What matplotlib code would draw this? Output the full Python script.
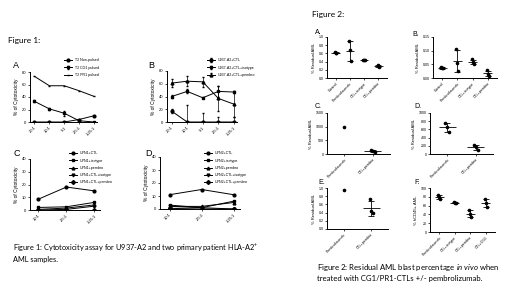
import matplotlib
matplotlib.use("Agg")
import matplotlib.pyplot as plt
import numpy as np

# ---- Figure 1 data ----
ratios_ab = ["20:1", "10:1", "5:1", "2.5:1", "1.25:1"]
ratios_cd = ["10:1", "2.5:1", "1.25:1"]

a_names = ["T2 Non-pulsed", "T2 CG1 pulsed", "T2 PR1 pulsed"]
a_nonpulsed = [0, 0, 0, 4, 10]
a_cg1 = [33, 21, 14, 2, 0]
a_cg1_err = [1.5, 1.5, 4, 2, 0]
a_pr1 = [73, 58, 58, 50, 41]

b_names = ["U937-A2+CTL", "U937-A2+CTL+isotype", "U937-A2+CTL+pembro"]
b_ctl = [17, 0, 0, 0, 0]
b_ctl_err = [3, 27, 14, 8, 8]
b_iso = [40, 48, 38, 48, 47]
b_iso_err = [2, 3, 1, 8, 1]
b_pem = [61, 64, 63, 37, 28]
b_pem_err = [6, 8, 8, 20, 20]

c_names = ["UPN1+CTL", "UPN1+isotype", "UPN1+pembro", "UPN1+CTL+isotype", "UPN1+CTL+pembro"]
c_ctl = [8.5, 18, 15]
c_iso = [2, 2.5, 6]
c_pem = [0.5, 1.5, 4]
c_ctl_iso = [0, 0.5, 3]
c_ctl_pem = [0, 0, 0]

d_names = ["UPN2+CTL", "UPN2+isotype", "UPN2+pembro", "UPN2+CTL+isotype", "UPN2+CTL+pembro"]
d_ctl = [11, 15, 11]
d_iso = [3, 1, 6]
d_pem = [2, 2, 5]
d_ctl_iso = [2, 1, 0]
d_ctl_pem = [0.5, 0, 0]

# ---- Figure 2 data (individual mice per group) ----
f2a_groups = ["Control", "Pembrolizumab", "CTL+isotype", "CTL+pembro"]
f2a_points = [[0.63, 0.61, 0.60], [0.90, 0.68, 0.42], [0.45, 0.44, 0.43], [0.32, 0.29, 0.28]]
f2b_groups = ["Control", "Pembrolizumab", "CTL+isotype", "CTL+pembro"]
f2b_points = [[0.042, 0.037, 0.035], [0.105, 0.055, 0.025], [0.068, 0.058, 0.052], [0.028, 0.015, 0.008]]
f2c_groups = ["Pembrolizumab", "CTL+pembro"]
f2c_points = [[1000], [150, 110, 80]]
f2d_groups = ["Pembrolizumab", "CTL+pembro"]
f2d_points = [[760, 650, 540], [220, 160, 100]]
f2e_groups = ["Pembrolizumab", "CTL+pembro"]
f2e_points = [[0.94], [0.72, 0.43, 0.38]]
f2f_groups = ["Pembrolizumab", "CTL+isotype", "CTL+pembro", "CTL+CG1"]
f2f_points = [[84, 79, 74], [68, 67, 66], [51, 42, 33], [75, 65, 56]]

W, H = 520, 292
AX_FONT = "Liberation Sans"
TXT_FONT = "Lato"
plt.rcParams["font.family"] = AX_FONT
plt.rcParams["mathtext.fontset"] = "custom"
plt.rcParams["mathtext.rm"] = TXT_FONT
plt.rcParams["mathtext.it"] = TXT_FONT + ":italic"

fig = plt.figure(figsize=(5.2, 2.92), dpi=100)


def box(x0, y0, x1, y1):
    return [x0 / W, 1 - y1 / H, (x1 - x0) / W, (y1 - y0) / H]


def style(ax, fs=3):
    for s in ["top", "right"]:
        ax.spines[s].set_visible(False)
    for s in ["left", "bottom"]:
        ax.spines[s].set_linewidth(0.7)
    ax.tick_params(width=0.5, length=1.5, labelsize=fs, pad=1)


def line_panel(ax, cats, series, ylim, yticks, legend_xy, names, markers):
    x = np.arange(len(cats))
    for (vals, err), m, n in zip(series, markers, names):
        ax.errorbar(x, vals, yerr=err, color="black", lw=0.7, marker=m, ms=2,
                    capsize=1, elinewidth=0.5, label=n)
    ax.set_xlim(-0.3, len(cats) - 0.8)
    ax.set_ylim(*ylim)
    ax.set_yticks(yticks)
    ax.set_xticks(x)
    ax.set_xticklabels(cats, rotation=45, ha="right", rotation_mode="anchor")
    ax.set_ylabel("% of Cytotoxicity", fontsize=3.5, labelpad=2)
    style(ax)
    ax.legend(loc="upper left", bbox_to_anchor=(legend_xy[0] / W, 1 - legend_xy[1] / H),
              bbox_transform=fig.transFigure, frameon=False, fontsize=2.6,
              handlelength=2, labelspacing=0.9, borderaxespad=0, handletextpad=0.8)


def dot_panel(ax, groups, points, ylim, yticks, ylabel):
    for i, pts in enumerate(points):
        pts = np.array(pts, dtype=float)
        off = np.linspace(-0.06, 0.06, len(pts)) if len(pts) > 1 else [0]
        ax.plot(i + np.asarray(off), pts, "o", color="black", ms=1.6)
        if len(pts) > 1:
            m, sd = pts.mean(), pts.std(ddof=1)
            ax.hlines(m, i - 0.3, i + 0.3, color="black", lw=0.6)
            ax.errorbar(i, m, yerr=sd, fmt="none", ecolor="black", elinewidth=0.6,
                        capsize=2, capthick=0.6)
    ax.set_xlim(-0.6, len(groups) - 0.4)
    ax.set_ylim(*ylim)
    ax.set_yticks(yticks)
    ax.set_xticks(range(len(groups)))
    ax.set_xticklabels(groups, rotation=45, ha="right", rotation_mode="anchor")
    ax.set_ylabel(ylabel, fontsize=3, labelpad=2)
    style(ax, fs=2.6)


def label(x, y, s, fs=6.5, font=AX_FONT):
    fig.text(x / W, 1 - y / H, s, fontsize=fs, family=font, va="center", ha="left")


# ---- Figure 1 ----
label(8, 40, "Figure 1:", fs=6, font=TXT_FONT)

axA = fig.add_axes(box(30, 72, 97, 122))
line_panel(axA, ratios_ab,
           [(a_nonpulsed, None), (a_cg1, a_cg1_err), (a_pr1, None)],
           (0, 80), [0, 20, 40, 60, 80], (63, 57), a_names, ["o", "s", "_"])
label(13, 66, "A")

axB = fig.add_axes(box(167, 71, 237, 122))
line_panel(axB, ratios_ab,
           [(b_ctl, b_ctl_err), (b_iso, b_iso_err), (b_pem, b_pem_err)],
           (0, 80), [0, 20, 40, 60, 80], (206, 57), b_names, ["o", "s", "^"])
label(148, 66, "B")

axC = fig.add_axes(box(30, 159, 100, 210))
line_panel(axC, ratios_cd,
           [(c_ctl, None), (c_iso, None), (c_pem, None), (c_ctl_iso, None), (c_ctl_pem, None)],
           (0, 40), [0, 10, 20, 30, 40], (68, 150), c_names, ["o", "s", "^", "v", "D"])
label(13, 153, "C")

axD = fig.add_axes(box(160, 157, 240, 209))
line_panel(axD, ratios_cd,
           [(d_ctl, None), (d_iso, None), (d_pem, None), (d_ctl_iso, None), (d_ctl_pem, None)],
           (0, 40), [0, 10, 20, 30, 40], (203, 150), d_names, ["o", "s", "^", "v", "D"])
label(145, 153, "D")

fig.text(13 / W, 1 - 253 / H,
         "Figure 1: Cytotoxicity assay for U937-A2 and two primary patient HLA-A2$^{+}$\nAML samples.",
         fontsize=5.3, family=TXT_FONT, va="center", ha="left", linespacing=1.2)

# ---- Figure 2 ----
label(312, 15, "Figure 2:", fs=6, font=TXT_FONT)

ax2a = fig.add_axes(box(327, 37, 387, 78))
dot_panel(ax2a, f2a_groups, f2a_points, (0, 1.0), np.arange(0, 1.01, 0.2), "% Residual AML")
label(315, 33, "A.", fs=5)

ax2b = fig.add_axes(box(433, 37, 497, 78))
dot_panel(ax2b, f2b_groups, f2b_points, (0, 0.15), [0, 0.05, 0.10, 0.15], "% Residual AML")
label(412, 35, "B.", fs=5)

ax2c = fig.add_axes(box(327, 113, 390, 154))
dot_panel(ax2c, f2c_groups, f2c_points, (0, 1500), [0, 500, 1000, 1500], "% Residual AML")
label(315, 107, "C.", fs=5)

ax2d = fig.add_axes(box(430, 113, 493, 154))
dot_panel(ax2d, f2d_groups, f2d_points, (0, 1000), np.arange(0, 1001, 200), "% Residual AML")
label(414, 107, "D.", fs=5)

ax2e = fig.add_axes(box(327, 188, 388, 229))
dot_panel(ax2e, f2e_groups, f2e_points, (0, 1.0), np.arange(0, 1.01, 0.2), "% Residual AML")
label(318, 183, "E.", fs=5)

ax2f = fig.add_axes(box(430, 188, 495, 232))
dot_panel(ax2f, f2f_groups, f2f_points, (0, 100), np.arange(0, 101, 20), "% hCD45+ AML")
label(414, 183, "F.", fs=5)

fig.text(317 / W, 1 - 272 / H,
         "Figure 2: Residual AML blast percentage $\\it{in\\ vivo}$ when\ntreated with CG1/PR1-CTLs +/- pembrolizumab.",
         fontsize=5.6, family=TXT_FONT, va="center", ha="left", linespacing=1.3)

fig.savefig("out.png", dpi=100)
